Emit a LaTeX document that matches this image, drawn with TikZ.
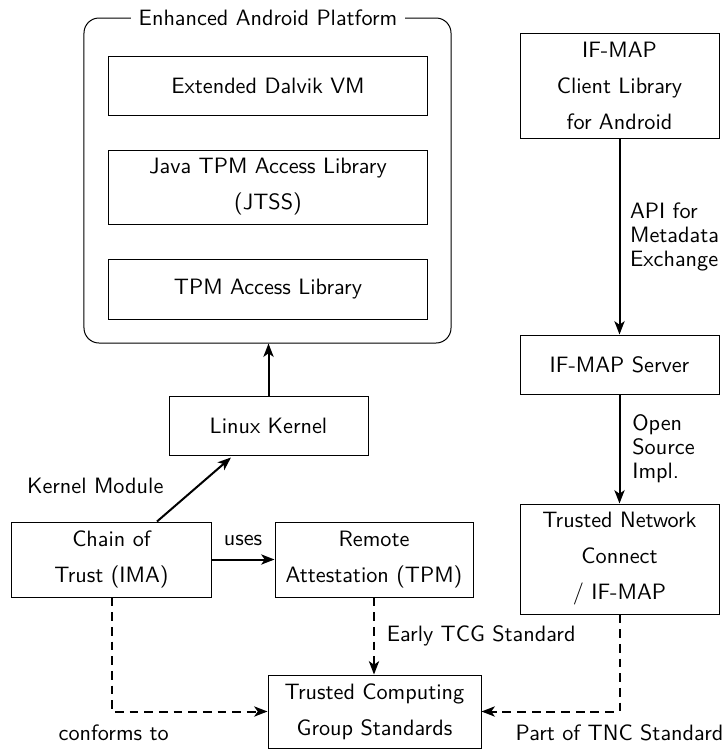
\documentclass[tikz,border=0pt]{standalone}
\usetikzlibrary{arrows.meta,calc}
\begin{document}
\begin{tikzpicture}[x=0.45pt,y=-0.45pt,
  box/.style={draw, line width=0.45pt, inner sep=0pt, align=center,
    font=\sffamily\fontsize{10}{16.2}\selectfont},
  lbl/.style={font=\sffamily\fontsize{10}{10.8}\selectfont, align=left},
  arr/.style={line width=0.9pt, -{Stealth[length=6pt,width=4.6pt,inset=1.6pt]}},
  darr/.style={arr, dash pattern=on 4pt off 2.6pt}]
\useasboundingbox (0,0) rectangle (723,749);

% Enhanced Android Platform
\node[draw, line width=0.45pt, rounded corners=6.75pt, minimum width=165.15pt, minimum height=146.25pt, inner sep=0pt] (plat) at (267.5,180.5) {};
\node[fill=white, font=\sffamily, inner sep=3.6pt] (title) at (268,18) {Enhanced Android Platform};
\node[box, minimum width=143.1pt, minimum height=26.55pt] (dalvik) at (268,85.5) {Extended Dalvik VM};
\node[box, minimum width=143.1pt, minimum height=33.3pt] (jtss) at (268,187) {Java TPM Access Library\\(JTSS)};
\node[box, minimum width=143.1pt, minimum height=27pt] (tpmlib) at (268,289) {TPM Access Library};

\node[box, minimum width=89.55pt, minimum height=26.55pt] (kernel) at (268.5,425.5) {Linux Kernel};
\node[box, minimum width=89.55pt, minimum height=33.75pt] (chain) at (111.5,559.5) {Chain of\\Trust (IMA)};
\node[box, minimum width=89.1pt, minimum height=33.75pt] (remote) at (374,559.5) {Remote\\Attestation (TPM)};
\node[box, minimum width=95.85pt, minimum height=32.85pt] (tcg) at (374.5,711.5) {Trusted Computing\\Group Standards};

\node[box, minimum width=89.55pt, minimum height=47.25pt] (client) at (619.5,85.5) {IF-MAP\\Client Library\\for Android};
\node[box, minimum width=89.55pt, minimum height=26.55pt] (server) at (619.5,364.5) {IF-MAP Server};
\node[box, minimum width=89.55pt, minimum height=49.5pt] (tnc) at (619.5,559) {Trusted Network\\Connect\\/ IF-MAP};

% connectors
\draw[arr] (kernel.north) -- (kernel.north |- plat.south);
\draw[arr] ($(chain.north)+(45.5,0)$) -- ($(kernel.south)+(-37.5,2)$)
  node[lbl, midway, anchor=east, xshift=-10pt, yshift=1.4pt] (kmlbl) {Kernel Module};
\draw[arr] (chain.east) -- (remote.west) node[lbl, midway, above=2.5pt] (useslbl) {uses};
\draw[darr] (remote.south) -- (remote.south |- tcg.north)
  node[lbl, midway, anchor=west, xshift=2pt] (earlylbl) {Early TCG Standard};
\draw[darr] (chain.south) |- (tcg.west)
  node[lbl, pos=0.5, below=2pt, xshift=1pt] (conflbl) {conforms to};
\draw[darr] (tnc.south) |- (tcg.east)
  node[lbl, pos=0.5, below=2pt] (partlbl) {Part of TNC Standard};
\draw[arr] (client.south) -- (server.north)
  node[lbl, midway, anchor=west, xshift=1pt] (apilbl) {API for\\Metadata\\Exchange};
\draw[arr] (server.south) -- (tnc.north)
  node[lbl, midway, anchor=west, xshift=2pt] (osilbl) {Open\\Source\\Impl.};
\end{tikzpicture}
\end{document}
